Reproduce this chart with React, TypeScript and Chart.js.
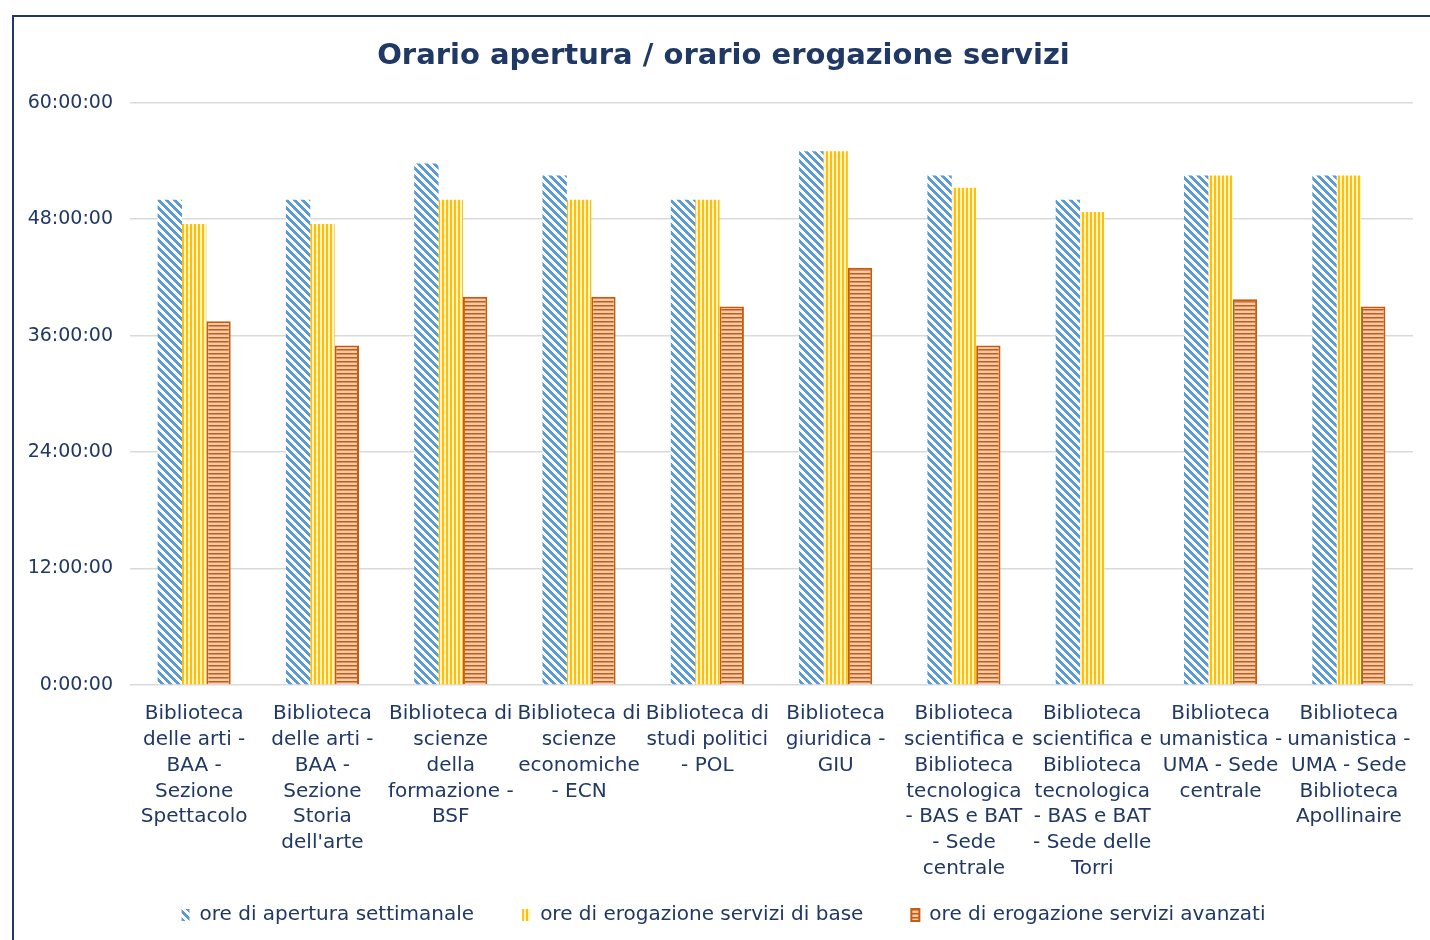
import React, { useEffect, useRef } from "react";
import { Chart, registerables } from "chart.js";

Chart.register(...registerables);

const categories: string[][] = [
  ["Biblioteca", "delle arti -", "BAA -", "Sezione", "Spettacolo"],
  ["Biblioteca", "delle arti -", "BAA -", "Sezione", "Storia", "dell'arte"],
  ["Biblioteca di", "scienze", "della", "formazione -", "BSF"],
  ["Biblioteca di", "scienze", "economiche", "- ECN"],
  ["Biblioteca di", "studi politici", "- POL"],
  ["Biblioteca", "giuridica -", "GIU"],
  ["Biblioteca", "scientifica e", "Biblioteca", "tecnologica", "- BAS e BAT", "- Sede", "centrale"],
  ["Biblioteca", "scientifica e", "Biblioteca", "tecnologica", "- BAS e BAT", "- Sede delle", "Torri"],
  ["Biblioteca", "umanistica -", "UMA - Sede", "centrale"],
  ["Biblioteca", "umanistica -", "UMA - Sede", "Biblioteca", "Apollinaire"],
];

const seriesNames = [
  "ore di apertura settimanale",
  "ore di erogazione servizi di base",
  "ore di erogazione servizi avanzati",
];

// hours per week
const oreApertura = [50, 50, 53.75, 52.5, 50, 55, 52.5, 50, 52.5, 52.5];
const oreBase = [47.5, 47.5, 50, 50, 50, 55, 51.25, 48.75, 52.5, 52.5];
const oreAvanzati = [37.5, 35, 40, 40, 39, 43, 35, 0, 39.75, 39];

const yMin = 0;
const yMax = 60;
const yStep = 12;

const NAVY = "#1f3864";

function fmtHours(v: number): string {
  const h = Math.floor(v);
  const m = Math.round((v - h) * 60);
  return `${h}:${String(m).padStart(2, "0")}:00`;
}

function makePattern(kind: "diag" | "vert" | "horiz"): CanvasPattern | string {
  const c = document.createElement("canvas");
  const ctx = c.getContext("2d")!;
  if (kind === "diag") {
    const s = 8;
    c.width = s;
    c.height = s;
    ctx.fillStyle = "#ffffff";
    ctx.fillRect(0, 0, s, s);
    ctx.fillStyle = "#5b9bd5";
    for (let y = 0; y < s; y++) {
      for (let x = 0; x < s; x++) {
        const d = (((x - y) % s) + s) % s;
        if (d < 4) ctx.fillRect(x, y, 1, 1);
      }
    }
  } else if (kind === "vert") {
    c.width = 4;
    c.height = 4;
    ctx.fillStyle = "#fff2cc";
    ctx.fillRect(0, 0, 4, 4);
    ctx.fillStyle = "#ffc000";
    ctx.fillRect(0, 0, 2, 4);
  } else {
    c.width = 4;
    c.height = 4;
    ctx.fillStyle = "#f8cbad";
    ctx.fillRect(0, 0, 4, 4);
    ctx.fillStyle = "#c55a11";
    ctx.fillRect(0, 0, 4, 1.5);
  }
  const p = ctx.createPattern(c, "repeat");
  return p || "#999";
}

const noLabelClip = (scale: any) => {
  scale._computeLabelArea = () => undefined;
};

export default function App() {
  const canvasRef = useRef<HTMLCanvasElement | null>(null);

  useEffect(() => {
    if (!canvasRef.current) return;
    const chart = new Chart(canvasRef.current, {
      type: "bar",
      data: {
        labels: categories,
        datasets: [
          {
            label: seriesNames[0],
            data: oreApertura,
            backgroundColor: makePattern("diag") as any,
            borderWidth: 0,
          },
          {
            label: seriesNames[1],
            data: oreBase,
            backgroundColor: makePattern("vert") as any,
            borderWidth: 0,
          },
          {
            label: seriesNames[2],
            data: oreAvanzati,
            backgroundColor: makePattern("horiz") as any,
            borderColor: "#c55a11",
            borderWidth: 2,
          },
        ],
      },
      options: {
        animation: false,
        responsive: false,
        maintainAspectRatio: false,
        layout: { padding: { left: 20, right: 20, top: 0, bottom: 5 } },
        datasets: {
          bar: { barPercentage: 1, categoryPercentage: 0.57 },
        },
        plugins: {
          tooltip: { enabled: false },
          title: {
            display: true,
            text: "Orario apertura / orario erogazione servizi",
            color: NAVY,
            font: { family: "DejaVu Sans", size: 29, weight: "bold", lineHeight: 1.2 },
            padding: { top: 22, bottom: 29 },
          },
          legend: {
            position: "bottom",
            labels: {
              color: NAVY,
              font: { family: "DejaVu Sans", size: 20, lineHeight: 1 },
              boxWidth: 8,
              boxHeight: 12,
              padding: 48,
            },
          },
        },
        scales: {
          x: {
            grid: { display: false, drawTicks: false },
            border: { display: false },
            ticks: {
              color: NAVY,
              font: { family: "DejaVu Sans", size: 20, lineHeight: 1.29 },
              maxRotation: 0,
              minRotation: 0,
              autoSkip: false,
              padding: 16,
            },
            afterFit: (scale: any) => {
              scale.height = 172;
              noLabelClip(scale);
            },
          },
          y: {
            min: yMin,
            max: yMax,
            grid: { color: "#d9d9d9", lineWidth: 1.5, drawTicks: false },
            border: { display: false },
            ticks: {
              stepSize: yStep,
              color: NAVY,
              font: { family: "DejaVu Sans", size: 19 },
              padding: 17,
              callback: (v: any) => fmtHours(Number(v)),
            },
            afterFit: (scale: any) => {
              scale.width = 96;
              noLabelClip(scale);
            },
          },
        },
      },
    });
    return () => chart.destroy();
  }, []);

  return (
    <div
      style={{
        position: "fixed",
        left: 0,
        top: 0,
        width: 1430,
        height: 940,
        overflow: "hidden",
        background: "#ffffff",
      }}
    >
      <div
        style={{
          position: "absolute",
          left: 12,
          top: 15,
          borderLeft: `2px solid ${NAVY}`,
          borderTop: `2px solid ${NAVY}`,
          width: 1440,
          height: 1000,
        }}
      >
        <canvas
          ref={canvasRef}
          width={1419}
          height={923}
          style={{ display: "block", width: 1419, height: 923 }}
        />
      </div>
    </div>
  );
}
